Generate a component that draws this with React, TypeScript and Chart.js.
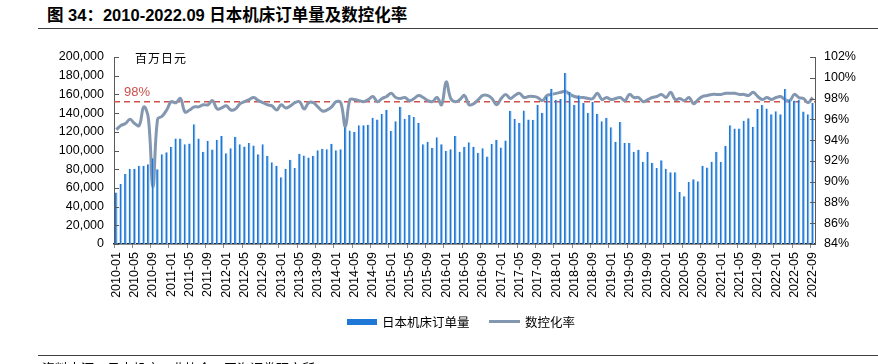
import React, { useEffect, useRef } from "react";
import { Chart, registerables } from "chart.js";

Chart.register(...registerables);

// ---- categories (2010-01 .. 2022-09) ----
const months: string[] = [];
for (let y = 2010; y <= 2022; y++) {
  for (let m = 1; m <= 12; m++) {
    if (y === 2022 && m > 9) break;
    months.push(`${y}-${String(m).padStart(2, "0")}`);
  }
}

// 日本机床订单量 (百万日元)
const orders: number[] = [
  55000, 64300, 75000, 80400, 80400, 83600, 83600, 85400, 91800, 80000,
  96100, 98200, 103900, 112900, 112900, 106800, 107500, 128200, 112900, 98600,
  110400, 101100, 111400, 115400, 97100, 102500, 114600, 106800, 104300, 107900,
  105400, 96100, 106800, 94300, 87500, 83600, 71400, 80400, 90000, 81400,
  96400, 94600, 92500, 94300, 100400, 101800, 101400, 107100, 100400, 101400,
  125000, 121400, 120000, 127100, 127100, 127500, 135000, 133200, 139000, 143600,
  120800, 131400, 146900, 133900, 138000, 135700, 129600, 106800, 109300, 102900,
  114100, 106800, 99600, 101400, 115600, 98600, 103900, 108900, 103900, 97500,
  102500, 93600, 107100, 111400, 103200, 110700, 142500, 133600, 129800, 142700,
  133200, 132900, 148700, 140300, 157800, 165700, 154200, 155000, 182900, 162800,
  148900, 159000, 150700, 140000, 152100, 139300, 131400, 135000, 125000, 109300,
  130400, 108200, 107900, 98600, 100700, 87900, 98600, 86800, 81400, 89600,
  80400, 76800, 76800, 55700, 51100, 66400, 69300, 67100, 83600, 81800,
  87900, 98600, 87900, 105000, 127100, 123600, 123600, 131800, 134600, 125400,
  144300, 148600, 145000, 138900, 142100, 138900, 165700, 154300, 153600, 154300,
  141800, 138900, 150700,
];

// 数控化率 (%)
const ncRate: number[] = [
  95.0, 95.4, 95.6, 96.0, 95.6, 95.4, 97.2, 96.1, 89.5, 96.0,
  96.3, 96.9, 97.7, 97.6, 98.0, 96.7, 96.9, 97.2, 97.2, 97.4,
  97.4, 97.8, 97.0, 97.1, 97.3, 96.9, 97.0, 97.5, 97.7, 97.9,
  98.1, 97.8, 97.6, 97.4, 97.3, 96.9, 97.4, 97.1, 97.3, 97.6,
  97.7, 97.0, 97.6, 97.6, 97.2, 96.8, 96.9, 97.2, 97.7, 97.6,
  95.3, 97.9, 97.9, 97.8, 97.7, 97.9, 98.2, 97.7, 98.0, 98.2,
  98.5, 98.1, 98.0, 98.1, 97.8, 98.0, 98.3, 98.1, 97.8, 97.7,
  98.1, 97.4, 99.6, 98.0, 97.7, 97.9, 98.3, 97.4, 97.5, 97.9,
  98.3, 98.3, 98.0, 97.4, 98.0, 98.4, 98.0, 98.3, 98.5, 98.1,
  98.2, 98.2, 98.1, 97.8, 98.3, 98.4, 98.5, 98.6, 98.7, 98.4,
  98.2, 98.1, 98.1, 98.0, 98.0, 98.5, 97.9, 98.1, 97.9, 98.0,
  98.1, 97.8, 98.4, 98.1, 98.1, 97.7, 97.9, 98.1, 98.2, 98.4,
  98.1, 98.6, 97.9, 98.0, 97.8, 98.1, 97.5, 97.9, 98.2, 98.3,
  98.4, 98.4, 98.4, 98.5, 98.5, 98.5, 98.4, 98.4, 98.3, 98.6,
  98.2, 97.9, 98.1, 97.9, 98.1, 98.2, 97.9, 97.8, 98.4, 98.1,
  98.0, 97.6, 98.1,
];

const refValue = 97.7;
const refLabel = "98%";

const leftMin = 0;
const leftMax = 200000;
const leftStep = 20000;
const rightMin = 84;
const rightMax = 102;
const rightStep = 2;

const titleText = "图 34：2010-2022.09 日本机床订单量及数控化率";
const unitText = "百万日元";
const barName = "日本机床订单量";
const lineName = "数控化率";
const sourceText = "资料来源：日本机床工业协会，国海证券研究所";

const BAR_COLOR = "#1f78d6";
const BAR_EDGE = "#9cc8f2";
const LINE_COLOR = "#8497b0";
const REF_COLOR = "#d0504c";
const AXIS_FONT = "'Liberation Sans', Arial, sans-serif";
const CJK_FONT = "'Noto Sans CJK SC', sans-serif";

const overlayPlugin = {
  id: "overlay",
  beforeDatasetsDraw(chart: any) {
    const { ctx, chartArea, scales } = chart;
    const y = scales.yR.getPixelForValue(refValue);
    ctx.save();
    ctx.strokeStyle = REF_COLOR;
    ctx.lineWidth = 1.5;
    ctx.setLineDash([6, 4]);
    ctx.beginPath();
    ctx.moveTo(chartArea.left, y);
    ctx.lineTo(chartArea.right, y);
    ctx.stroke();
    ctx.setLineDash([]);
    ctx.fillStyle = "#c8504c";
    ctx.font = `13px ${AXIS_FONT}`;
    ctx.textBaseline = "bottom";
    ctx.textAlign = "left";
    ctx.fillText(refLabel, chartArea.left + 10, y - 3);
    ctx.restore();
  },
  afterDraw(chart: any) {
    const { ctx, chartArea, scales } = chart;
    ctx.save();
    ctx.strokeStyle = "#595959";
    ctx.lineWidth = 1;
    const yL = scales.yL;
    yL.ticks.forEach((_t: any, i: number) => {
      const p = Math.round(yL.getPixelForTick(i)) + 0.5;
      ctx.beginPath();
      ctx.moveTo(chartArea.left, p);
      ctx.lineTo(chartArea.left + 5, p);
      ctx.stroke();
    });
    const yR = scales.yR;
    yR.ticks.forEach((_t: any, i: number) => {
      const p = Math.round(yR.getPixelForTick(i)) + 0.5;
      ctx.beginPath();
      ctx.moveTo(chartArea.right - 5, p);
      ctx.lineTo(chartArea.right, p);
      ctx.stroke();
    });
    ctx.restore();
  },
};

export default function App() {
  const canvasRef = useRef<HTMLCanvasElement | null>(null);

  useEffect(() => {
    if (!canvasRef.current) return;
    const chart = new Chart(canvasRef.current, {
      type: "bar",
      data: {
        labels: months,
        datasets: [
          {
            type: "bar",
            label: barName,
            data: orders,
            yAxisID: "yL",
            backgroundColor: BAR_COLOR,
            borderColor: BAR_EDGE,
            borderWidth: { top: 0, left: 0, bottom: 0, right: 1 } as any,
            borderSkipped: false,
            barPercentage: 0.6,
            categoryPercentage: 1,
            order: 0,
          },
          {
            type: "line",
            label: lineName,
            data: ncRate,
            yAxisID: "yR",
            borderColor: LINE_COLOR,
            borderWidth: 3,
            pointRadius: 0,
            tension: 0.4,
            fill: false,
            order: 1,
          } as any,
        ],
      },
      options: {
        responsive: false,
        animation: false,
        devicePixelRatio: 1,
        layout: { padding: { top: 57, left: 0, right: 0, bottom: 0 } },
        plugins: {
          legend: { display: false },
          tooltip: { enabled: false },
          title: { display: false },
        },
        scales: {
          x: {
            afterFit: (s: any) => {
              s.height = 120;
            },
            grid: {
              display: true,
              drawOnChartArea: false,
              drawTicks: true,
              tickLength: 4,
              color: (c: any) => (c.index % 4 === 0 ? "#8c8c8c" : "rgba(0,0,0,0)"),
            },
            border: { display: true, color: "#262626", width: 1.5 },
            ticks: {
              autoSkip: false,
              minRotation: 90,
              maxRotation: 90,
              padding: 4,
              color: "#000",
              font: { family: AXIS_FONT, size: 12.5 },
              callback: (_v: any, i: number) => (i % 4 === 0 ? months[i] : ""),
            },
          },
          yL: {
            position: "left",
            min: leftMin,
            max: leftMax,
            afterFit: (s: any) => {
              s.width = 114;
            },
            grid: { display: false, drawTicks: false },
            border: { display: true, color: "#595959", width: 1 },
            ticks: {
              stepSize: leftStep,
              padding: 10,
              color: "#000",
              font: { family: AXIS_FONT, size: 12.5 },
              callback: (v: any) => Number(v).toLocaleString("en-US"),
            },
          },
          yR: {
            position: "right",
            min: rightMin,
            max: rightMax,
            afterFit: (s: any) => {
              s.width = 63;
            },
            grid: { display: false, drawTicks: false },
            border: { display: true, color: "#595959", width: 1 },
            ticks: {
              stepSize: rightStep,
              padding: 9,
              color: "#000",
              font: { family: AXIS_FONT, size: 12.5 },
              callback: (v: any) => `${v}%`,
            },
          },
        },
      },
      plugins: [overlayPlugin],
    });
    return () => chart.destroy();
  }, []);

  return (
    <div
      style={{
        position: "absolute",
        left: 0,
        top: 0,
        width: 878,
        height: 364,
        background: "#fff",
        overflow: "hidden",
      }}
    >
      <div
        style={{
          position: "absolute",
          left: 47,
          top: 5,
          fontFamily: `'Liberation Sans', Arial, ${CJK_FONT}`,
          fontWeight: "bold",
          fontSize: 16.5,
          color: "#000",
          whiteSpace: "nowrap",
          lineHeight: "20px",
        }}
      >
        {titleText}
      </div>
      <div
        style={{
          position: "absolute",
          left: 38,
          top: 28,
          width: 840,
          height: 0,
          borderTop: "1.5px solid #404040",
        }}
      />
      <canvas
        ref={canvasRef}
        width={878}
        height={364}
        style={{ position: "absolute", left: 0, top: 0, width: 878, height: 364 }}
      />
      <div
        style={{
          position: "absolute",
          left: 135,
          top: 50,
          fontFamily: CJK_FONT,
          fontSize: 12,
          lineHeight: "16px",
          letterSpacing: 1,
          color: "#000",
          whiteSpace: "nowrap",
        }}
      >
        {unitText}
      </div>
      {/* legend */}
      <div
        style={{
          position: "absolute",
          left: 347,
          top: 319,
          width: 30,
          height: 6,
          background: BAR_COLOR,
        }}
      />
      <div
        style={{
          position: "absolute",
          left: 382,
          top: 313,
          fontFamily: CJK_FONT,
          fontSize: 12.5,
          lineHeight: "17px",
          color: "#000",
          whiteSpace: "nowrap",
        }}
      >
        {barName}
      </div>
      <div
        style={{
          position: "absolute",
          left: 489,
          top: 320,
          width: 31,
          height: 3,
          background: LINE_COLOR,
        }}
      />
      <div
        style={{
          position: "absolute",
          left: 525,
          top: 313,
          fontFamily: CJK_FONT,
          fontSize: 12.5,
          lineHeight: "17px",
          color: "#000",
          whiteSpace: "nowrap",
        }}
      >
        {lineName}
      </div>
      <div
        style={{
          position: "absolute",
          left: 38,
          top: 355,
          width: 840,
          height: 0,
          borderTop: "1.5px solid #404040",
        }}
      />
      <div
        style={{
          position: "absolute",
          left: 42,
          top: 359,
          fontFamily: CJK_FONT,
          fontSize: 13,
          lineHeight: "17px",
          color: "#000",
          whiteSpace: "nowrap",
        }}
      >
        {sourceText}
      </div>
    </div>
  );
}
